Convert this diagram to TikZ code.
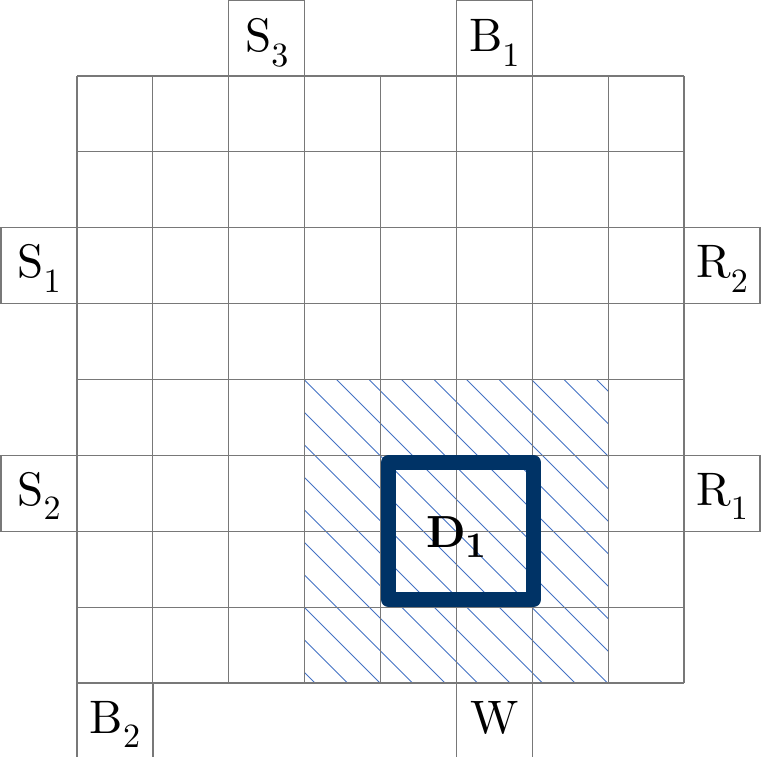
\documentclass[tikz,border=0pt]{standalone}
\usepackage{fontspec}
\setmainfont{lmroman10-regular.otf}[BoldFont=lmroman10-bold.otf]
\definecolor{gridgray}{RGB}{120,120,120}
\definecolor{hatchblue}{RGB}{68,114,196}
\definecolor{navyd}{RGB}{0,51,102}
\newcommand{\lbl}[2]{#1\raisebox{-0.31em}{\fontsize{34}{34}\selectfont #2}}
\begin{document}
\begin{tikzpicture}[x=1pt,y=-1pt,
  gridline/.style={draw=gridgray,line width=1.2pt},
  outbox/.style={draw=gridgray,line width=1.2pt,minimum width=76pt,minimum height=76pt,inner sep=0pt,outer sep=0pt},
  txt/.style={anchor=base,inner sep=0pt,font=\fontsize{47}{56}\selectfont},
  hatch/.style={draw=hatchblue,line width=0.9pt}]
\useasboundingbox (0,0) rectangle (761,756);
% hatched region
\begin{scope}
\clip (305,380) rectangle (608,683);
\foreach \k in {-1,...,20} \draw[hatch] ({-368+\k*32.5},0) -- ++(800,800);
\end{scope}
% grid
\foreach \i in {0,...,8} {
  \draw[gridline] ({77+\i*75.875},76) -- ({77+\i*75.875},683);
  \draw[gridline] (77,{76+\i*75.875}) -- (684,{76+\i*75.875});
}
% outside boxes
\node[outbox] (s3box) at (266.7,38) {};
\node[outbox] (b1box) at (494.3,38) {};
\node[outbox] (s1box) at (39,265.7) {};
\node[outbox] (r2box) at (722,265.7) {};
\node[outbox] (s2box) at (39,493.3) {};
\node[outbox] (r1box) at (722,493.3) {};
\node[outbox] (b2box) at (115,721) {};
\node[outbox] (wbox) at (494.3,721) {};
% labels
\node[txt] (s3) at (266.7,51.5) {\lbl{S}{3}};
\node[txt] (b1) at (494.3,51.5) {\lbl{B}{1}};
\node[txt] (s1) at (39,277.5) {\lbl{S}{1}};
\node[txt] (r2) at (722,277.5) {\lbl{R}{2}};
\node[txt] (s2) at (39,505) {\lbl{S}{2}};
\node[txt] (r1) at (722,505) {\lbl{R}{1}};
\node[txt] (b2) at (115,733) {\lbl{B}{2}};
\node[txt] (w) at (494.3,733) {W};
% D1 box
\node[draw=navyd,line width=15pt,line join=round,minimum width=145pt,minimum height=137pt,inner sep=0pt] (d1box) at (461,531) {};
\node[anchor=base,inner sep=0pt,font=\fontsize{45}{54}\selectfont\bfseries] (d1) at (456.5,547) {D\raisebox{-0.23em}{\fontsize{36}{36}\selectfont 1}};
\end{tikzpicture}
\end{document}
